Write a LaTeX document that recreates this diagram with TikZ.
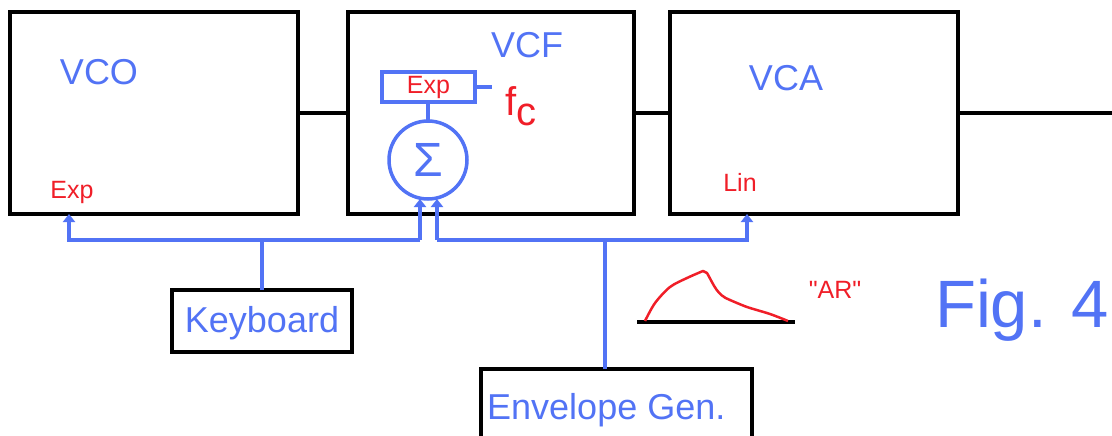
\documentclass[tikz,border=0pt]{standalone}
\usepackage{fontspec}
\setmainfont{Liberation Sans}
\newfontfamily\rawsans{Liberation Sans}
\usetikzlibrary{arrows.meta}
\definecolor{sblue}{RGB}{82,115,245}
\definecolor{sred}{RGB}{240,30,40}
\tikzset{
  blk/.style={draw=black, line width=3.5pt, inner sep=0pt, outer sep=0pt, anchor=north west},
  bline/.style={draw=sblue, line width=3.5pt},
  barr/.style={draw=sblue, line width=3.5pt, -{Triangle[width=12pt,length=8pt]}},
  kline/.style={draw=black, line width=3.5pt},
  big/.style={text=sblue, font=\fontsize{36}{40}\selectfont, inner sep=0pt},
  small/.style={text=sred, font=\fontsize{25}{28}\selectfont, inner sep=0pt},
}
\begin{document}
\begin{tikzpicture}[x=1pt,y=-1pt]
\useasboundingbox (0,0) rectangle (1112,436);
\clip (0,0) rectangle (1112,436);
% main boxes
\node[blk, minimum width=288, minimum height=202] (vco) at (10,12) {};
\node[blk, minimum width=286, minimum height=202] (vcf) at (348,12) {};
\node[blk, minimum width=288, minimum height=202] (vca) at (670,12) {};
\node[blk, minimum width=180, minimum height=62] (kb) at (172,290) {};
\node[blk, minimum width=271, minimum height=90] (env) at (481,369) {};
% labels
\node[big] (tvco) at (99,72) {VCO};
\node[big] (tvcf) at (527,45) {VCF};
\node[big] (tvca) at (786,78) {VCA};
\node[big] (tkb) at (262,323) {Keyboard};
\node[big, anchor=west] (tenv) at (487,410) {Envelope Gen.};
\node[text=sblue, font=\fontsize{67}{70}\selectfont, inner sep=0pt] (fig) at (1022,310) {Fig. 4};
\node[small] (expo) at (72,192) {Exp};
\node[small] (lin) at (740,182) {Lin};
\node[small, font=\rawsans\fontsize{25}{28}\selectfont] (ar) at (835,290) {"AR"};
\node[text=sred, font=\fontsize{40}{44}\selectfont, inner sep=0pt] (fc) at (521,106) {f\raisebox{-10pt}{c}};
% Exp box and summer
\node[draw=sblue, line width=3.5pt, minimum width=93, minimum height=30, inner sep=0pt, outer sep=0pt, anchor=north west] (expbox) at (382,72) {};
\node[small] (tex) at (expbox.center) {Exp};
\node[draw=sblue, line width=3.5pt, circle, minimum size=78, inner sep=0pt, outer sep=0pt] (sum) at (428,160) {};
\node[text=sblue, font=\fontsize{48}{52}\selectfont, inner sep=0pt] (sig) at (428,160) {Σ};
\coordinate (fcin) at (492,87);
\draw[bline] (expbox.east |- fcin) -- (fcin);
\draw[bline] (sum.north) -- (sum.north |- expbox.south);
% black signal path
\draw[kline] (vco.east) -- (vcf.west);
\draw[kline] (vcf.east) -- (vca.west);
\coordinate (outx) at (1112,0);
\draw[kline] (vca.east) -- (vca.east -| outx);
% control buses
\coordinate (busL) at (420,240);
\coordinate (busR) at (437,240);
\coordinate (vcoin) at (69,214);
\coordinate (vcain) at (747,214);
\coordinate (sumL) at (420,199);
\coordinate (sumR) at (437,199);
\coordinate (envtop) at (605,369);
\draw[barr] (busL) -| (vcoin);
\draw[barr] (busL) -- (sumL);
\draw[bline] (kb.north) -- (kb.north |- busL);
\draw[barr] (busR) -| (vcain);
\draw[barr] (busR) -- (sumR);
\draw[bline] (envtop) -- (envtop |- busR);
% AR envelope sketch
\coordinate (arL) at (637,322);
\coordinate (arR) at (795,322);
\draw[kline] (arL) -- (arR);
\draw[draw=sred, line width=2.5pt, line join=round] plot[smooth, tension=0.5] coordinates {(645,321) (655,303) (670,287) (687,278) (703,271)} -- (707,273) to[out=-60,in=160] (730,300) plot[smooth, tension=0.5] coordinates {(730,300) (747,307) (770,314) (788,321)};
\end{tikzpicture}
\end{document}
